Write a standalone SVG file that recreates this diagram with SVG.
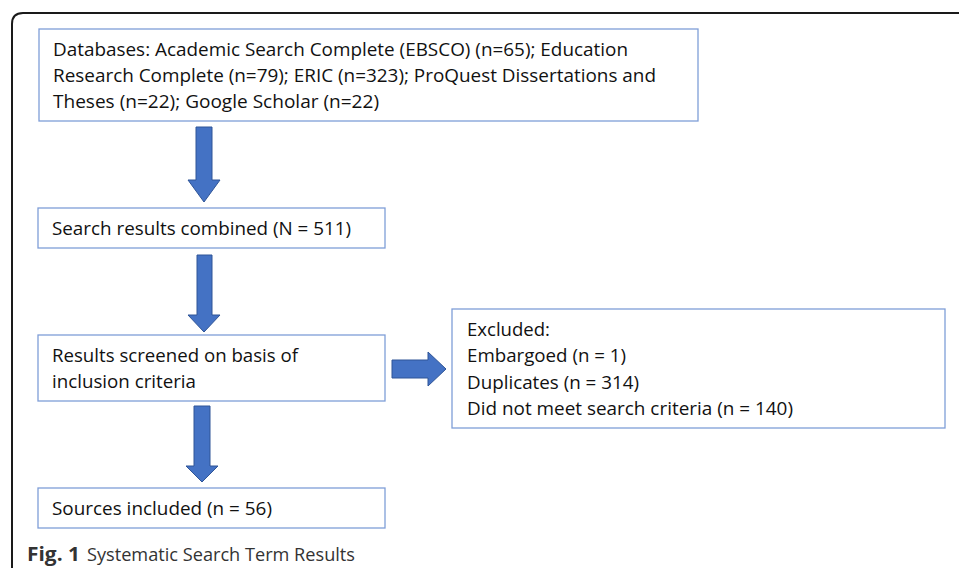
<svg xmlns="http://www.w3.org/2000/svg" width="959" height="568" viewBox="0 0 959 568">
<style>
.box{fill:#fff;stroke:#7F9ED8;stroke-width:1.3}
.t{font-family:"Open Sans","Liberation Sans",sans-serif;font-size:19px;fill:#111}
.arr{fill:#4472C4;stroke:#2F5597;stroke-width:1}
.cap{font-family:"Open Sans","Liberation Sans",sans-serif;font-size:19px;fill:#333}
</style>
<rect width="959" height="568" fill="#fff"/>
<path d="M12 568 V24 Q12 13 23 13 H959" fill="none" stroke="#1a1a1a" stroke-width="2"/>
<g id="connectors">
<polygon class="arr" points="196,127 212,127 212,180 220,180 204,202 188,180 196,180"/>
<polygon class="arr" points="197,255 212,255 212,315 220,315 204,332 188,315 197,315"/>
<polygon class="arr" points="194,406 210,406 210,466 218,466 202,482 186,466 194,466"/>
<polygon class="arr" points="392,360 428,360 428,352 446,369 428,386 428,378 392,378"/>
</g>
<g id="databases">
<rect class="box" x="39" y="29" width="659" height="92"/>
<text class="t" x="53" y="56" textLength="575" lengthAdjust="spacingAndGlyphs">Databases: Academic Search Complete (EBSCO) (n=65); Education</text>
<text class="t" x="53" y="82" textLength="603" lengthAdjust="spacingAndGlyphs">Research Complete (n=79); ERIC (n=323); ProQuest Dissertations and</text>
<text class="t" x="53" y="108" textLength="326" lengthAdjust="spacingAndGlyphs">Theses (n=22); Google Scholar (n=22)</text>
</g>
<g id="combined">
<rect class="box" x="38" y="208" width="347" height="40"/>
<text class="t" x="52" y="235" textLength="299" lengthAdjust="spacingAndGlyphs">Search results combined (N = 511)</text>
</g>
<g id="screened">
<rect class="box" x="38" y="335" width="347" height="66"/>
<text class="t" x="52" y="362" textLength="246" lengthAdjust="spacingAndGlyphs">Results screened on basis of</text>
<text class="t" x="52" y="388" textLength="144" lengthAdjust="spacingAndGlyphs">inclusion criteria</text>
</g>
<g id="excluded">
<rect class="box" x="452" y="309" width="493" height="119"/>
<text class="t" x="467" y="336" textLength="83" lengthAdjust="spacingAndGlyphs">Excluded:</text>
<text class="t" x="467" y="362" textLength="159" lengthAdjust="spacingAndGlyphs">Embargoed (n = 1)</text>
<text class="t" x="467" y="389" textLength="172" lengthAdjust="spacingAndGlyphs">Duplicates (n = 314)</text>
<text class="t" x="467" y="415" textLength="326" lengthAdjust="spacingAndGlyphs">Did not meet search criteria (n = 140)</text>
</g>
<g id="included">
<rect class="box" x="38" y="488" width="347" height="40"/>
<text class="t" x="52" y="515" textLength="220" lengthAdjust="spacingAndGlyphs">Sources included (n = 56)</text>
</g>
<g id="caption">
<text class="cap" x="27" y="561" font-weight="bold" fill="#111" textLength="53" lengthAdjust="spacingAndGlyphs">Fig. 1</text>
<text class="cap" x="87" y="561" textLength="268" lengthAdjust="spacingAndGlyphs">Systematic Search Term Results</text>
</g>
</svg>
